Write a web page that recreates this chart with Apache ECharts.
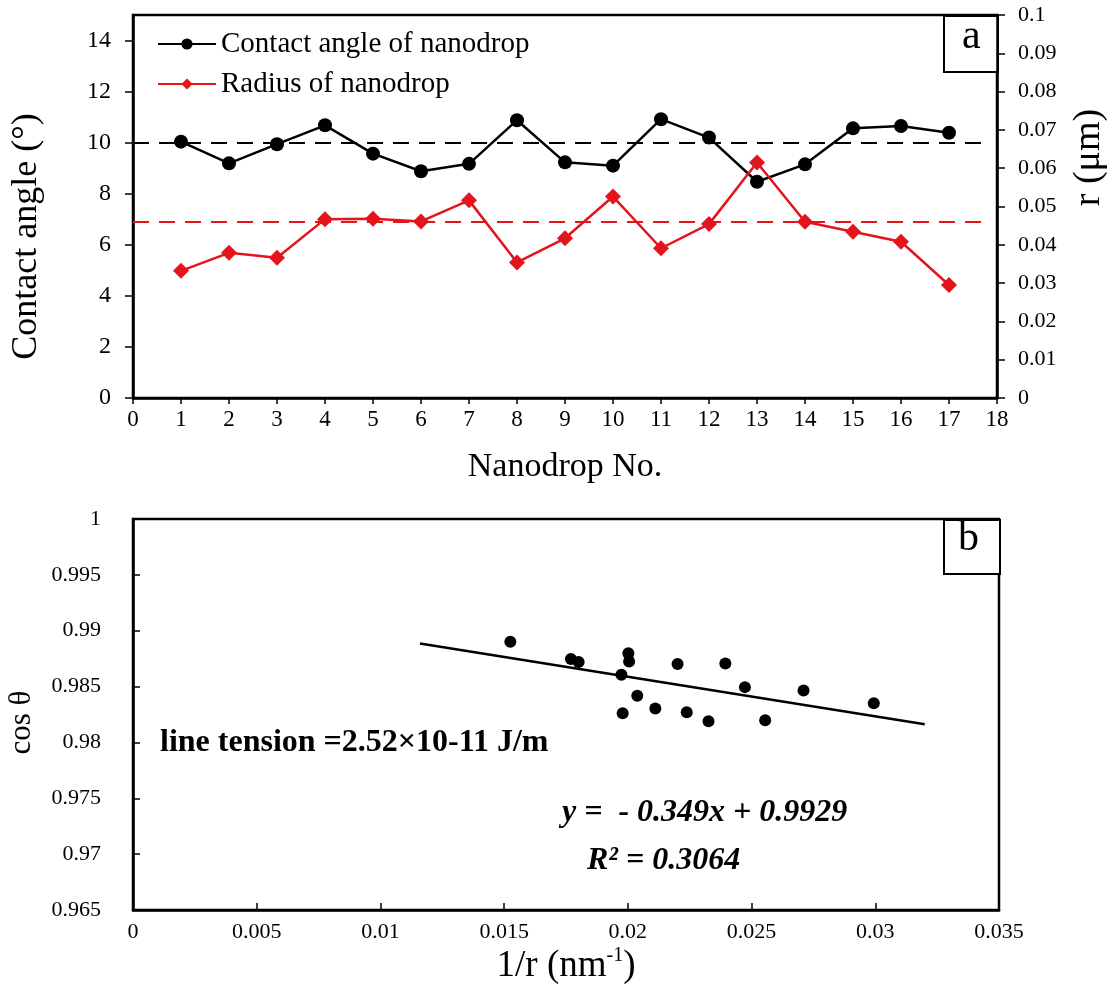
<!DOCTYPE html>
<html>
<head>
<meta charset="utf-8">
<script src="https://cdn.jsdelivr.net/npm/echarts@6/dist/echarts.min.js"></script>
<style>
  html, body { margin: 0; padding: 0; background: #fff; }
  #main { width: 1113px; height: 994px; }
</style>
</head>
<body>
<div id="main"></div>
<script>
// panel a
const dropNo = [1, 2, 3, 4, 5, 6, 7, 8, 9, 10, 11, 12, 13, 14, 15, 16, 17]
const contactAngle = [10.04, 9.19, 9.94, 10.68, 9.57, 8.88, 9.17, 10.88, 9.23, 9.10, 10.92, 10.20, 8.47, 9.15, 10.56, 10.65, 10.39]
const radius = [0.0332, 0.0379, 0.0366, 0.0467, 0.0468, 0.0461, 0.0516, 0.0354, 0.0417, 0.0526, 0.0391, 0.0454, 0.0615, 0.0460, 0.0434, 0.0408, 0.0295]
const meanAngle = 10.0
const meanRadius = 0.046
const meanLineEnd = 17.8

// panel b
const invR = [0.01525, 0.01770, 0.01801, 0.02002, 0.02005, 0.01974, 0.02038, 0.01979, 0.02111, 0.02201, 0.02238, 0.02326, 0.02394, 0.02473, 0.02555, 0.02710, 0.02994]
const cosTheta = [0.98901, 0.98746, 0.98719, 0.98799, 0.98725, 0.98606, 0.98418, 0.98262, 0.98304, 0.98701, 0.98271, 0.98190, 0.98707, 0.98495, 0.98199, 0.98465, 0.98351]
const fitX = [0.0116, 0.0320]
const fitY = [0.98885, 0.98163]

const serif = 'Liberation Serif'
const chart = echarts.init(document.getElementById('main'))

const axisLine = { show: true, lineStyle: { color: '#000', width: 2.5 } }
const tickStyle = { color: '#000', width: 1.5 }
const label = (size) => ({ color: '#000', fontFamily: serif, fontSize: size })

const option = {
  backgroundColor: '#fff',
  animation: false,
  textStyle: { fontFamily: serif },
  legend: {
    left: 152,
    top: 22,
    orient: 'vertical',
    itemWidth: 58,
    itemHeight: 14,
    itemGap: 6,
    textStyle: { color: '#000', fontFamily: serif, fontSize: 29, lineHeight: 34 },
    data: ['Contact angle of nanodrop', 'Radius of nanodrop']
  },
  grid: [
    { left: 133, right: 116, top: 15, height: 383, outerBoundsMode: 'none', containLabel: false, show: true, borderColor: '#000', borderWidth: 2.5 },
    { left: 133, right: 114, top: 519, height: 391, outerBoundsMode: 'none', containLabel: false, show: true, borderColor: '#000', borderWidth: 2.5 }
  ],
  xAxis: [
    {
      gridIndex: 0, type: 'value', min: 0, max: 18, interval: 1,
      name: 'Nanodrop No.', nameLocation: 'middle', nameGap: 52,
      nameTextStyle: label(34),
      axisLine: axisLine,
      axisTick: { show: true, length: 6, lineStyle: tickStyle },
      axisLabel: { ...label(23), margin: 10 },
      splitLine: { show: false }
    },
    {
      gridIndex: 1, type: 'value', min: 0, max: 0.035, interval: 0.005,
      name: '{a|1/r (nm}{s|-1}{a|)}', nameLocation: 'middle', nameGap: 36,
      nameTextStyle: {
        rich: {
          a: { color: '#000', fontFamily: serif, fontSize: 37 },
          s: { color: '#000', fontFamily: serif, fontSize: 20, verticalAlign: 'top', padding: [0, 0, 20, 0] }
        }
      },
      axisLine: axisLine,
      axisTick: { show: true, inside: true, length: 7, lineStyle: tickStyle },
      axisLabel: { ...label(22), margin: 11, formatter: v => String(+v.toFixed(3)) },
      splitLine: { show: false }
    }
  ],
  yAxis: [
    {
      gridIndex: 0, type: 'value', min: 0, max: 15, interval: 2,
      name: 'Contact angle (°)', nameLocation: 'middle', nameGap: 88,
      nameTextStyle: { ...label(36), padding: [0, 60, 0, 0] },
      axisLine: axisLine,
      axisTick: { show: true, length: 8, lineStyle: tickStyle },
      axisLabel: { ...label(24), margin: 22, showMaxLabel: false },
      splitLine: { show: false }
    },
    {
      gridIndex: 0, type: 'value', min: 0, max: 0.1, interval: 0.01, position: 'right',
      name: 'r (μm)', nameLocation: 'middle', nameGap: 73, nameRotate: 90,
      nameTextStyle: { ...label(38), padding: [0, 0, 0, 98] },
      axisLine: axisLine,
      axisTick: { show: true, length: 8, lineStyle: tickStyle },
      axisLabel: { ...label(22), margin: 21, formatter: v => String(+v.toFixed(2)) },
      splitLine: { show: false }
    },
    {
      gridIndex: 1, type: 'value', min: 0.965, max: 1, interval: 0.005,
      name: 'cos θ', nameLocation: 'middle', nameGap: 96,
      nameTextStyle: { ...label(31), padding: [0, 16, 0, 0] },
      axisLine: axisLine,
      axisTick: { show: true, inside: true, length: 7, lineStyle: tickStyle },
      axisLabel: { ...label(22), margin: 32, formatter: v => String(+v.toFixed(3)) },
      splitLine: { show: false }
    }
  ],
  series: [
    {
      name: 'Contact angle of nanodrop',
      type: 'line', xAxisIndex: 0, yAxisIndex: 0,
      data: dropNo.map((n, i) => [n, contactAngle[i]]),
      symbol: 'circle', symbolSize: 14,
      itemStyle: { color: '#000' },
      lineStyle: { color: '#000', width: 2.5 },
      z: 3,
      markLine: {
        silent: true, symbol: 'none', label: { show: false },
        lineStyle: { color: '#000', width: 2, type: [16, 10] },
        data: [[{ coord: [0, meanAngle] }, { coord: [meanLineEnd, meanAngle] }]]
      }
    },
    {
      name: 'Radius of nanodrop',
      type: 'line', xAxisIndex: 0, yAxisIndex: 1,
      data: dropNo.map((n, i) => [n, radius[i]]),
      symbol: 'diamond', symbolSize: 16,
      itemStyle: { color: '#e3141b' },
      lineStyle: { color: '#e3141b', width: 2.5 },
      z: 4,
      markLine: {
        silent: true, symbol: 'none', label: { show: false },
        lineStyle: { color: '#e3141b', width: 2, type: [16, 10] },
        data: [[{ coord: [0, meanRadius] }, { coord: [meanLineEnd, meanRadius] }]]
      }
    },
    {
      name: 'fit',
      type: 'line', xAxisIndex: 1, yAxisIndex: 2,
      data: fitX.map((x, i) => [x, fitY[i]]),
      symbol: 'none',
      lineStyle: { color: '#000', width: 2.5 }
    },
    {
      name: 'cos',
      type: 'scatter', xAxisIndex: 1, yAxisIndex: 2,
      data: invR.map((x, i) => [x, cosTheta[i]]),
      symbolSize: 12,
      itemStyle: { color: '#000', opacity: 1 }
    }
  ],
  graphic: [
    { type: 'rect', left: 943, top: 15, shape: { width: 54, height: 56 }, style: { fill: '#fff', stroke: '#000', lineWidth: 2 } },
    { type: 'text', left: 962, top: 16, style: { text: 'a', font: '42px "Liberation Serif"', fill: '#000' } },
    { type: 'rect', left: 943, top: 519, shape: { width: 56, height: 54 }, style: { fill: '#fff', stroke: '#000', lineWidth: 2 } },
    { type: 'text', left: 958, top: 518, style: { text: 'b', font: '42px "Liberation Serif"', fill: '#000' } },
    { type: 'text', left: 160, top: 727, style: { text: 'line tension =2.52×10-11 J/m', font: 'bold 32px "Liberation Serif"', fill: '#000' } },
    { type: 'text', left: 562, top: 797, style: { text: 'y =  - 0.349x + 0.9929', font: 'italic bold 32px "Liberation Serif"', fill: '#000' } },
    { type: 'text', left: 587, top: 845, style: { text: 'R² = 0.3064', font: 'italic bold 32px "Liberation Serif"', fill: '#000' } }
  ]
}

chart.setOption(option)
</script>
</body>
</html>
